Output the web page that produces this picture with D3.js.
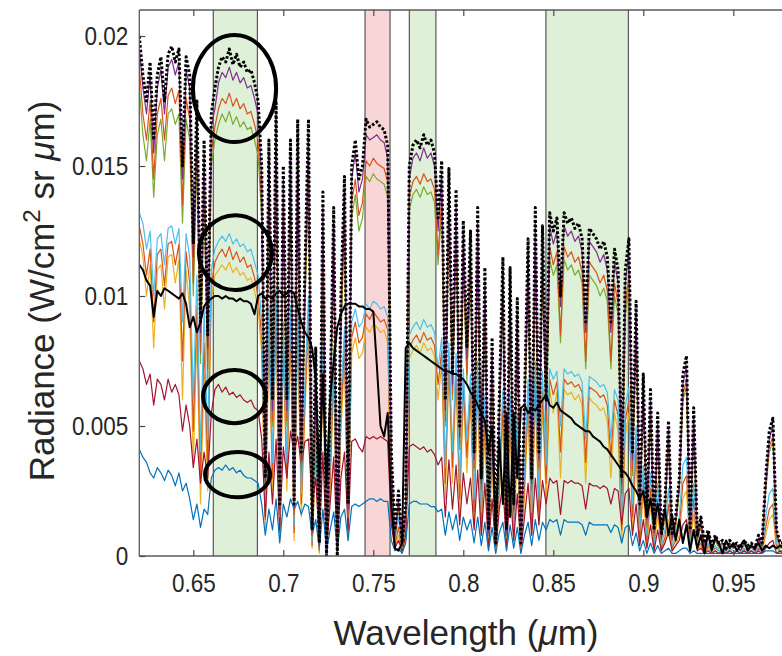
<!DOCTYPE html>
<html><head><meta charset="utf-8">
<script src="https://cdn.jsdelivr.net/npm/d3@7"></script>
<style>
body{margin:0;background:#fff}
svg{display:block;background:#fff}
text{font-family:"Liberation Sans",Arial,Helvetica,sans-serif;fill:#262626}
</style>
</head><body>
<svg id="chart" width="782" height="656"></svg>
<script>
// Wavelength samples (micrometres)
const wavelength = [
0.620,0.622,0.624,0.626,0.628,0.630,0.632,0.634,0.636,0.638,
0.640,0.642,0.644,0.646,0.648,0.650,0.652,0.654,0.656,0.658,
0.660,0.662,0.664,0.666,0.668,0.670,0.672,0.674,0.676,0.678,
0.680,0.682,0.684,0.686,0.688,0.690,0.692,0.694,0.696,0.698,
0.700,0.702,0.704,0.706,0.708,0.710,0.712,0.714,0.716,0.718,
0.720,0.722,0.724,0.726,0.728,0.730,0.732,0.734,0.736,0.738,
0.740,0.742,0.744,0.746,0.748,0.750,0.752,0.754,0.756,0.758,
0.760,0.762,0.764,0.766,0.768,0.770,0.772,0.774,0.776,0.778,
0.780,0.782,0.784,0.786,0.788,0.790,0.792,0.794,0.796,0.798,
0.800,0.802,0.804,0.806,0.808,0.810,0.812,0.814,0.816,0.818,
0.820,0.822,0.824,0.826,0.828,0.830,0.832,0.834,0.836,0.838,
0.840,0.842,0.844,0.846,0.848,0.850,0.852,0.854,0.856,0.858,
0.860,0.862,0.864,0.866,0.868,0.870,0.872,0.874,0.876,0.878,
0.880,0.882,0.884,0.886,0.888,0.890,0.892,0.894,0.896,0.898,
0.900,0.902,0.904,0.906,0.908,0.910,0.912,0.914,0.916,0.918,
0.920,0.922,0.924,0.926,0.928,0.930,0.932,0.934,0.936,0.938,
0.940,0.942,0.944,0.946,0.948,0.950,0.952,0.954,0.956,0.958,
0.960,0.962,0.964,0.966,0.968,0.970,0.972,0.974,0.976,0.978];

// Radiance values in units of 1e-4 W/(cm^2 sr um)
const dottedTop = [
200,185,175,190,160,185,192,175,193,196,
190,195,150,192,185,120,175,90,160,85,
170,180,188,192,190,195,189,193,188,190,
186,187,182,175,150,30,160,60,175,20,
150,60,160,20,168,40,110,168,10,80,
5,140,0,60,134,0,100,146,20,150,
160,145,150,168,165,166,167,165,164,158,
40,10,25,5,20,150,158,160,157,162,
158,160,155,130,152,60,149,70,141,50,
129,80,125,40,134,30,111,10,84,5,
60,115,10,111,20,99,5,60,122,30,
134,40,127,60,132,125,130,100,132,128,
130,126,128,122,90,126,124,122,118,121,
115,90,118,110,30,110,122,40,98,20,
70,15,64,10,55,8,20,52,8,15,
30,70,77,10,57,8,15,5,10,4,
8,5,6,3,6,4,5,3,6,4,
5,3,8,5,30,48,53,10,5,5];

const solidBlack = [
112,110,106,104,92,102,100,103,102,101,
100,99,101,97,88,92,86,90,96,98,
99,100,100,99,100,99,99,98,99,98,
98,97,93,100,101,99,100,99,101,102,
100,101,102,101,95,90,86,84,80,68,
30,70,27,60,75,88,93,96,97,97,
97,96,96,95,95,94,73,50,46,55,
20,3,2,5,80,82,80,79,78,77,
76,75,74,73,72,71,71,70,70,69,
68,66,63,61,58,55,52,40,50,10,
45,20,55,15,55,30,57,58,55,57,
56,58,60,62,58,57,59,56,55,54,
53,51,50,49,48,48,46,45,44,42,
41,39,37,35,33,32,30,27,25,22,
25,15,22,12,20,10,18,8,16,6,
14,5,12,2,10,3,8,1,9,2,
7,5,1,6,3,5,2,4,6,2,
4,3,5,2,4,3,4,3,4,3];

const purpleHigh = [
195,180,170,185,155,180,187,170,188,191,
185,190,145,187,180,115,170,86,155,80,
165,172,182,186,184,188,183,186,182,184,
180,181,176,170,145,28,155,56,170,18,
145,56,155,18,162,37,105,162,9,76,
4,135,0,56,129,0,96,141,18,145,
155,140,145,162,160,161,162,160,159,153,
36,8,22,4,18,145,153,155,152,157,
153,155,150,125,147,56,144,66,136,46,
124,76,120,37,129,28,106,9,80,4,
56,110,9,106,18,94,4,56,117,28,
129,37,122,56,127,120,125,96,127,123,
125,121,123,117,86,121,119,117,113,116,
110,86,113,105,28,105,117,37,94,18,
66,14,60,9,52,7,18,49,7,14,
28,66,73,9,54,7,14,4,9,3,
7,4,5,2,5,3,4,2,5,3,
4,2,7,4,28,45,50,9,4,4];

const orangeHigh = [
188,170,160,175,145,170,176,160,177,180,
174,179,135,176,168,105,160,78,145,72,
155,165,172,176,174,178,173,176,172,174,
170,171,166,160,136,26,146,52,160,16,
136,52,146,16,152,34,98,152,8,70,
3,126,0,52,120,0,88,132,16,136,
145,131,136,152,150,153,151,150,149,144,
33,7,20,3,16,138,144,146,143,147,
144,145,141,116,138,52,135,62,128,43,
117,70,113,34,121,26,100,8,75,3,
52,103,8,100,17,88,3,52,110,26,
120,34,114,52,119,112,117,85,119,115,
117,113,115,109,75,113,111,109,105,108,
102,75,105,97,24,96,108,33,88,16,
62,12,56,8,48,6,16,45,6,12,
26,62,68,8,50,6,12,4,8,3,
6,4,5,2,5,3,4,2,5,3,
4,2,6,4,26,42,46,8,4,4];

const greenHigh = [
180,162,152,168,138,162,168,152,170,172,
166,170,128,168,160,100,152,74,138,68,
150,160,166,170,167,171,166,169,165,167,
164,165,160,154,130,25,140,50,153,15,
130,50,140,15,146,32,94,146,7,67,
3,121,0,50,115,0,84,126,15,130,
139,125,130,146,144,147,145,144,143,138,
31,6,19,3,15,133,139,141,138,142,
139,140,136,112,133,50,130,60,123,41,
112,67,108,33,116,25,96,7,72,3,
50,99,7,96,16,85,3,50,106,25,
115,33,110,50,114,108,112,82,114,110,
112,108,110,105,72,108,106,104,100,103,
98,72,100,93,23,92,104,31,84,15,
60,11,54,7,46,6,15,43,6,11,
25,60,65,7,48,6,11,3,7,3,
6,3,4,2,4,3,4,2,4,3,
3,2,6,3,25,40,44,7,3,3];

const lightBlueMid = [
132,128,118,125,100,122,124,112,126,127,
120,126,90,124,115,60,108,40,95,45,
110,118,121,123,121,124,120,122,119,120,
117,118,113,108,90,18,96,36,104,12,
90,36,96,12,100,24,66,100,6,48,
3,84,0,36,80,0,60,88,12,90,
95,88,90,97,95,98,97,95,96,92,
25,6,15,3,12,85,88,90,87,91,
88,89,86,72,84,34,82,40,78,28,
72,45,70,22,75,17,62,6,47,3,
34,64,6,62,11,55,3,34,68,17,
75,22,71,35,72,68,71,50,72,70,
71,69,70,67,45,69,68,67,65,66,
63,45,64,60,15,58,65,20,50,10,
35,8,32,5,28,4,10,26,4,8,
15,35,38,5,28,4,7,2,5,2,
4,2,3,1,3,2,2,1,3,2,
2,1,4,2,15,24,26,5,2,2];

const orangeMid = [
127,120,108,118,90,116,118,104,120,121,
112,120,75,117,105,48,96,30,82,35,
104,113,116,118,115,119,114,117,113,115,
111,112,107,100,84,14,90,30,98,9,
84,30,90,9,94,20,60,94,4,43,
2,78,0,30,74,0,54,82,9,84,
90,82,84,93,91,94,92,90,91,87,
20,4,11,2,9,80,83,85,82,86,
83,84,81,66,79,28,77,34,73,22,
67,38,65,17,70,12,56,4,41,2,
28,58,4,56,8,48,2,28,62,12,
68,17,64,28,68,62,67,40,68,66,
67,65,66,63,36,65,64,63,61,62,
58,38,60,54,10,52,60,15,44,7,
30,6,26,4,22,3,7,20,3,6,
11,28,31,4,22,3,5,1,4,2,
3,2,2,1,2,1,2,1,2,1,
2,1,3,2,11,18,20,4,2,1];

const yellowMid = [
122,115,100,112,80,110,112,95,115,116,
105,114,60,110,95,35,85,20,70,25,
98,108,110,112,110,113,109,111,108,109,
106,107,102,95,78,10,85,25,92,6,
78,25,85,6,88,15,55,88,3,38,
1,72,0,25,68,0,48,76,6,78,
84,76,78,88,86,89,88,86,87,82,
15,3,8,1,6,76,79,81,78,82,
79,80,77,60,74,22,72,28,68,16,
62,32,60,12,64,8,50,3,35,1,
22,52,3,50,5,42,1,22,56,8,
62,12,58,22,64,55,63,30,64,62,
63,60,62,58,28,61,59,58,56,57,
52,30,55,48,6,46,55,10,38,5,
24,4,20,3,16,2,5,14,2,4,
8,22,25,3,16,2,4,1,3,1,
2,1,2,1,2,1,2,1,2,1,
1,1,2,1,8,14,16,3,1,1];

const darkRedLow = [
75,72,66,70,58,68,66,60,68,63,
66,62,48,58,50,34,45,28,40,30,
55,64,66,63,65,62,63,61,62,60,
59,60,57,56,45,15,40,20,45,10,
42,30,48,40,46,35,44,45,20,30,
5,40,3,20,38,2,30,40,10,44,
45,42,40,46,45,46,45,46,45,44,
12,3,6,2,8,42,43,42,41,42,
40,41,39,35,38,15,37,18,35,12,
32,20,30,10,33,8,28,3,22,2,
18,28,3,26,6,24,2,15,28,8,
30,12,29,20,30,28,29,16,29,28,
29,28,28,27,18,28,27,27,26,27,
26,20,26,25,12,24,26,8,20,4,
14,3,12,2,10,2,5,9,2,4,
6,12,14,2,10,2,3,1,2,1,
2,1,2,1,2,1,2,1,2,1,
2,1,2,1,3,5,6,1,2,1];

const blueLow = [
41,38,36,32,30,34,32,29,33,31,
27,32,25,28,22,14,20,11,18,16,
30,33,34,33,35,33,34,32,33,31,
30,30,29,28,20,8,18,10,22,5,
20,15,22,18,21,16,20,19,8,14,
3,18,2,10,17,2,15,18,6,19,
20,19,20,21,22,22,21,22,21,21,
6,2,3,1,5,20,21,21,20,20,
20,19,19,17,18,8,17,10,16,6,
15,10,14,5,15,4,13,2,11,1,
9,13,2,12,3,11,1,8,13,4,
14,6,13,10,14,13,14,8,14,13,
13,13,13,12,8,13,12,12,12,12,
12,9,12,11,5,11,12,4,9,2,
6,1,5,1,4,1,2,3,1,1,
2,3,3,1,2,1,1,1,1,1,
1,1,1,1,1,1,1,1,1,1,
1,1,1,1,2,2,2,1,1,1];

// Highlighted spectral windows [start, end] (um)
const bandStart = [0.6611, 0.7454, 0.7700, 0.8459];
const bandEnd   = [0.6856, 0.7593, 0.7848, 0.8917];
const bandKind  = ["window", "reference", "window", "window"];

// Annotation ellipses: centre (um, 1e-4 units) and half-extent
const ringWave  = [0.6729, 0.6734, 0.6729, 0.6746];
const ringRad   = [179.8, 116.7, 61.3, 31.3];
const ringHalfW = [0.0231, 0.0203, 0.0175, 0.0181];
const ringHalfR = [20.6, 14.4, 10.2, 8.7];

// Axis ticks
const xTicks = [0.65, 0.7, 0.75, 0.8, 0.85, 0.9, 0.95];
const xTickLabels = ["0.65", "0.7", "0.75", "0.8", "0.85", "0.9", "0.95"];
const yTicks = [0, 50, 100, 150, 200];
const yTickLabels = ["0", "0.005", "0.01", "0.015", "0.02"];

// ---------------- drawing ----------------
const svg = d3.select("#chart");
const L = 139.3, T = 10, B = 556;
const x = d3.scaleLinear().domain([0.62, 1.0]).range([L, L + 0.38 * 1800]);
const y = d3.scaleLinear().domain([0, 210]).range([B, T]);

svg.append("defs").append("clipPath").attr("id", "plotClip")
  .append("rect").attr("x", L).attr("y", T).attr("width", 800).attr("height", B - T);

const bandFill = {window: "#dff0d9", reference: "#f8d6d6"};
const bands = bandStart.map((s, i) => ({s, e: bandEnd[i], k: bandKind[i]}));
const gb = svg.append("g");
gb.selectAll("rect").data(bands).join("rect")
  .attr("x", d => x(d.s)).attr("width", d => x(d.e) - x(d.s))
  .attr("y", T).attr("height", B - T).attr("fill", d => bandFill[d.k]);
gb.selectAll("line.edge").data(bands.flatMap(d => [d.s, d.e])).join("line")
  .attr("class", "edge")
  .attr("x1", d => x(d)).attr("x2", d => x(d)).attr("y1", T).attr("y2", B)
  .attr("stroke", "#4a4a4a").attr("stroke-width", 1.1);

const series = [
  {v: yellowMid,    c: "#EDB120", w: 1.2},
  {v: orangeMid,    c: "#D95319", w: 1.2},
  {v: lightBlueMid, c: "#4DBEEE", w: 1.2},
  {v: darkRedLow,   c: "#A2142F", w: 1.2},
  {v: blueLow,      c: "#0072BD", w: 1.2},
  {v: greenHigh,    c: "#77AC30", w: 1.2},
  {v: orangeHigh,   c: "#D95319", w: 1.2},
  {v: purpleHigh,   c: "#7E2F8E", w: 1.2},
  {v: solidBlack,   c: "#000000", w: 2.0},
  {v: dottedTop,    c: "#000000", w: 3.0, dash: "2.6,2"}
];
const line = vals => d3.line().x((d, i) => x(wavelength[i])).y(d => y(d))(vals);
const gl = svg.append("g").attr("clip-path", "url(#plotClip)");
gl.selectAll("path").data(series).join("path")
  .attr("d", d => line(d.v))
  .attr("fill", "none")
  .attr("stroke", d => d.c)
  .attr("stroke-width", d => d.w)
  .attr("stroke-linejoin", "round")
  .attr("stroke-dasharray", d => d.dash || null);

// frame + axes
const frame = svg.append("g").attr("stroke", "#5a5a5a").attr("stroke-width", 1.3);
frame.append("line").attr("x1", L).attr("x2", 782).attr("y1", T).attr("y2", T);
frame.append("line").attr("x1", L).attr("x2", 782).attr("y1", B).attr("y2", B);
frame.append("line").attr("x1", L).attr("x2", L).attr("y1", T).attr("y2", B);

const xb = svg.append("g").attr("transform", `translate(0,${B})`)
  .call(d3.axisBottom(x).tickValues(xTicks).tickSize(-6).tickSizeOuter(0).tickPadding(18)
    .tickFormat((d, i) => xTickLabels[i]));
const xt = svg.append("g").attr("transform", `translate(0,${T})`)
  .call(d3.axisTop(x).tickValues(xTicks).tickSize(-6).tickSizeOuter(0).tickFormat(""));
const yl = svg.append("g").attr("transform", `translate(${L},0)`)
  .call(d3.axisLeft(y).tickValues(yTicks).tickSize(-6).tickSizeOuter(0).tickPadding(11)
    .tickFormat((d, i) => yTickLabels[i]));
[xb, xt, yl].forEach(g => {
  g.select(".domain").remove();
  g.selectAll(".tick line").attr("stroke", "#4a4a4a").attr("stroke-width", 1.2);
  g.selectAll(".tick text").attr("font-size", 25).attr("fill", "#262626")
    .style("font-family", '"Liberation Sans", Arial, sans-serif')
    .each(function() {
      const w = this.getComputedTextLength();
      if (w > 0) d3.select(this).attr("textLength", w * 0.9).attr("lengthAdjust", "spacingAndGlyphs");
    });
});

// annotation ellipses
const rings = ringWave.map((w, i) => ({w, r: ringRad[i], hw: ringHalfW[i], hr: ringHalfR[i]}));
svg.append("g").selectAll("ellipse").data(rings).join("ellipse")
  .attr("cx", d => x(d.w)).attr("cy", d => y(d.r))
  .attr("rx", d => x(d.w + d.hw) - x(d.w)).attr("ry", d => y(d.r - d.hr) - y(d.r))
  .attr("fill", "none").attr("stroke", "#000").attr("stroke-width", 4);

// axis titles
const xt2 = svg.append("text").attr("x", 466).attr("y", 645)
  .attr("text-anchor", "middle").attr("font-size", 35);
xt2.append("tspan").text("Wavelength (");
xt2.append("tspan").attr("font-style", "italic").text("μ");
xt2.append("tspan").text("m)");

const yt = svg.append("text").attr("transform", "translate(54,291) rotate(-90)")
  .attr("text-anchor", "middle").attr("font-size", 35);
yt.append("tspan").text("Radiance (W/cm");
yt.append("tspan").attr("font-size", 24).attr("dy", -14).text("2");
yt.append("tspan").attr("dy", 14).text(" sr ");
yt.append("tspan").attr("font-style", "italic").text("μ");
yt.append("tspan").text("m)");
</script>
</body></html>
